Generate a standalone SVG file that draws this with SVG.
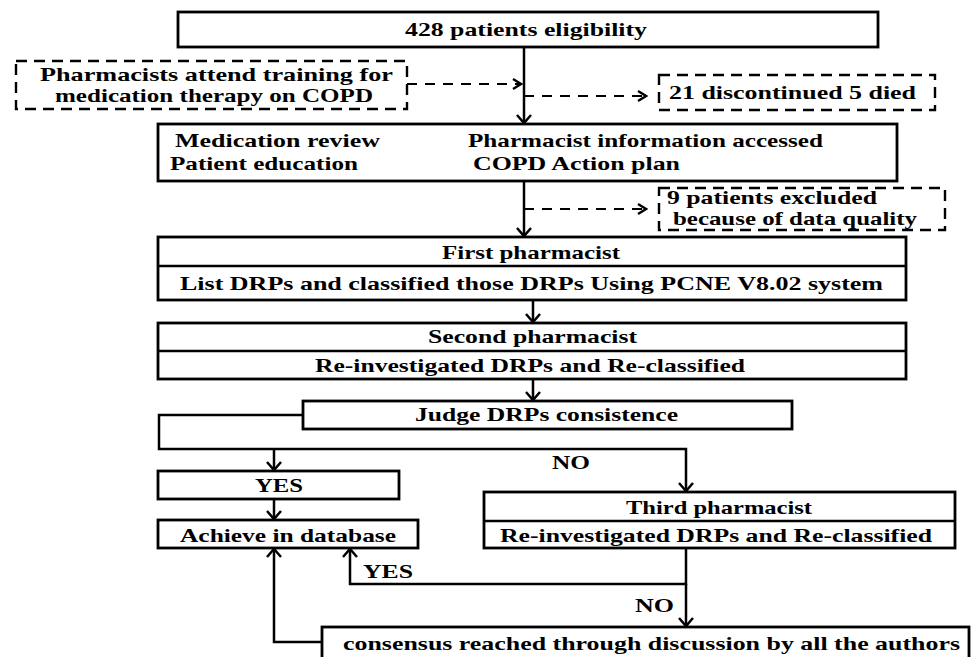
<svg xmlns="http://www.w3.org/2000/svg" width="974" height="657" viewBox="0 0 974 657">
<style>
.box{fill:#fff;stroke:#000;stroke-width:2.8}
.dbox{fill:none;stroke:#000;stroke-width:2.4;stroke-dasharray:11 7}
.div{stroke:#000;stroke-width:2.6}
.t{font-family:"Liberation Serif","Times New Roman",serif;font-weight:bold;font-size:19px;fill:#000}
.ln{fill:none;stroke:#000;stroke-width:2.5}
.dl{fill:none;stroke:#000;stroke-width:2.2;stroke-dasharray:10 8}
</style>
<defs>
<marker id="ah" viewBox="-10 -9 12 18" refX="0" refY="0" markerWidth="12" markerHeight="18" markerUnits="userSpaceOnUse" orient="auto">
<path d="M-8,-7 L0,0 L-8,7" fill="none" stroke="#000" stroke-width="2.5"/>
</marker>
<marker id="ahs" viewBox="-10 -7 12 14" refX="0" refY="0" markerWidth="12" markerHeight="14" markerUnits="userSpaceOnUse" orient="auto">
<path d="M-8,-5 L0,0 L-8,5" fill="none" stroke="#000" stroke-width="2.4"/>
</marker>
</defs>

<g id="connectors">
<path class="ln" d="M524,47 V123" marker-end="url(#ah)"/>
<path class="dl" d="M407,84 H521" marker-end="url(#ahs)"/>
<path class="dl" d="M524,96 H646" marker-end="url(#ahs)"/>
<path class="ln" d="M524,181 V236" marker-end="url(#ah)"/>
<path class="dl" d="M524,209 H646" marker-end="url(#ahs)"/>
<path class="ln" d="M533,300 V322" marker-end="url(#ah)"/>
<path class="ln" d="M533,379 V400" marker-end="url(#ah)"/>
<path class="ln" d="M303,415 H159 V449 H686 V491" marker-end="url(#ah)"/>
<path class="ln" d="M274,449 V470" marker-end="url(#ah)"/>
<path class="ln" d="M274,499 V519" marker-end="url(#ah)"/>
<path class="ln" d="M686,548 V584 H350 V549" marker-end="url(#ah)"/>
<path class="ln" d="M686,584 V626" marker-end="url(#ah)"/>
<path class="ln" d="M322,642 H274 V549" marker-end="url(#ah)"/>
<text class="t" x="552" y="469" textLength="38" lengthAdjust="spacingAndGlyphs">NO</text>
<text class="t" x="363" y="578" textLength="50" lengthAdjust="spacingAndGlyphs">YES</text>
<text class="t" x="635" y="612" textLength="39" lengthAdjust="spacingAndGlyphs">NO</text>
</g>

<g id="eligibility">
<rect class="box" x="178" y="12" width="700" height="35"/>
<text class="t" x="405" y="36" textLength="242" lengthAdjust="spacingAndGlyphs">428 patients eligibility</text>
</g>

<g id="training">
<rect class="dbox" x="16" y="61" width="391" height="48"/>
<text class="t" x="40" y="81" textLength="353" lengthAdjust="spacingAndGlyphs">Pharmacists attend training for</text>
<text class="t" x="55" y="102" textLength="318" lengthAdjust="spacingAndGlyphs">medication therapy on COPD</text>
</g>

<g id="discontinued">
<rect class="dbox" x="659" y="75" width="276" height="35"/>
<text class="t" x="669" y="99" textLength="247" lengthAdjust="spacingAndGlyphs">21 discontinued 5 died</text>
</g>

<g id="intervention">
<rect class="box" x="158" y="124" width="739" height="57"/>
<text class="t" x="175" y="147" textLength="205" lengthAdjust="spacingAndGlyphs">Medication review</text>
<text class="t" x="170" y="170" textLength="188" lengthAdjust="spacingAndGlyphs">Patient education</text>
<text class="t" x="468" y="147" textLength="355" lengthAdjust="spacingAndGlyphs">Pharmacist information accessed</text>
<text class="t" x="473" y="170" textLength="207" lengthAdjust="spacingAndGlyphs">COPD Action plan</text>
</g>

<g id="excluded">
<rect class="dbox" x="659" y="188" width="286" height="42"/>
<text class="t" x="667" y="204" textLength="210" lengthAdjust="spacingAndGlyphs">9 patients excluded</text>
<text class="t" x="673" y="225" textLength="244" lengthAdjust="spacingAndGlyphs">because of data quality</text>
</g>

<g id="first">
<rect class="box" x="158" y="237" width="748" height="63"/>
<line class="div" x1="158" y1="266" x2="906" y2="266"/>
<text class="t" x="442" y="259" textLength="178" lengthAdjust="spacingAndGlyphs">First pharmacist</text>
<text class="t" x="180" y="290" textLength="703" lengthAdjust="spacingAndGlyphs">List DRPs and classified those DRPs Using PCNE V8.02 system</text>
</g>

<g id="second">
<rect class="box" x="158" y="323" width="748" height="56"/>
<line class="div" x1="158" y1="351" x2="906" y2="351"/>
<text class="t" x="428" y="343" textLength="209" lengthAdjust="spacingAndGlyphs">Second pharmacist</text>
<text class="t" x="315" y="372" textLength="430" lengthAdjust="spacingAndGlyphs">Re-investigated DRPs and Re-classified</text>
</g>

<g id="judge">
<rect class="box" x="303" y="401" width="489" height="28"/>
<text class="t" x="415" y="421" textLength="263" lengthAdjust="spacingAndGlyphs">Judge DRPs consistence</text>
</g>

<g id="yes">
<rect class="box" x="158" y="471" width="241" height="28"/>
<text class="t" x="255" y="492" textLength="48" lengthAdjust="spacingAndGlyphs">YES</text>
</g>

<g id="database">
<rect class="box" x="158" y="520" width="260" height="28"/>
<text class="t" x="180" y="542" textLength="216" lengthAdjust="spacingAndGlyphs">Achieve in database</text>
</g>

<g id="third">
<rect class="box" x="484" y="492" width="471" height="56"/>
<line class="div" x1="484" y1="521" x2="955" y2="521"/>
<text class="t" x="626" y="514" textLength="186" lengthAdjust="spacingAndGlyphs">Third pharmacist</text>
<text class="t" x="500" y="542" textLength="432" lengthAdjust="spacingAndGlyphs">Re-investigated DRPs and Re-classified</text>
</g>

<g id="consensus">
<rect class="box" x="322" y="627" width="647" height="45"/>
<text class="t" x="343" y="650" textLength="617" lengthAdjust="spacingAndGlyphs">consensus reached through discussion by all the authors</text>
</g>
</svg>
